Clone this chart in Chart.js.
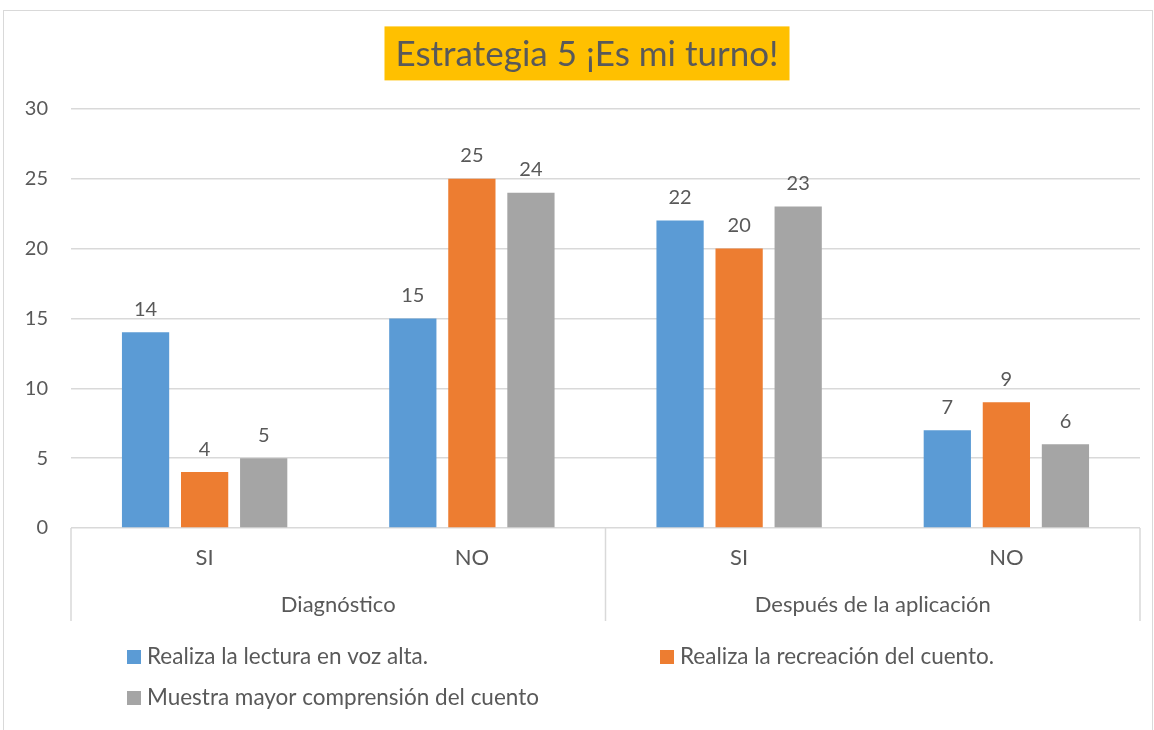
<!DOCTYPE html>
<html lang="es">
<head>
<meta charset="UTF-8" />
<title>Estrategia 5</title>
<script src="https://cdn.jsdelivr.net/npm/chart.js@4.4.0/dist/chart.umd.min.js"></script>
<style>
    body { margin: 0; background: #fff; }
    #board {
        position: absolute;
        left: 3px;
        top: 10px;
        width: 1150px;
        height: 730px;
        border: 1px solid #d9d9d9;
        box-sizing: border-box;
    }
</style>
</head>
<body>
<div id="board">
    <canvas id="chart1"></canvas>
</div>
<script>
    // datos
    const categories = ['SI', 'NO', 'SI', 'NO'];
    const groups = ['Diagnóstico', 'Después de la aplicación'];
    const lectura = [14, 15, 22, 7];
    const recreacion = [4, 25, 20, 9];
    const comprension = [5, 24, 23, 6];
    const seriesNames = [
        'Realiza la lectura en voz alta.',
        'Realiza la recreación del cuento.',
        'Muestra mayor comprensión del cuento'
    ];
    const yTicks = [0, 5, 10, 15, 20, 25, 30];
    const titleText = 'Estrategia 5 ¡Es mi turno!';

    const textColor = '#595959';
    const fontName = 'Lato, "Open Sans", sans-serif';

    // titulo con fondo amarillo (el title de Chart.js solo reserva el espacio)
    const titleBox = {
        id: 'titleBox',
        afterDraw(chart) {
            const ctx = chart.ctx;
            const tb = chart.titleBlock;
            const opts = chart.options.plugins.title;
            ctx.save();
            ctx.font = '35px ' + fontName;
            const w = ctx.measureText(titleText).width;
            const cx = chart.width / 2 + 9;
            const cy = tb.top + opts.padding.top + opts.font.size * 1.2 / 2;
            ctx.fillStyle = '#FFC000';
            ctx.fillRect(cx - w / 2 - 11, cy - 27, w + 22, 54);
            ctx.fillStyle = textColor;
            ctx.textAlign = 'center';
            ctx.textBaseline = 'middle';
            ctx.fillText(titleText, cx, cy + 1);
            ctx.restore();
        }
    };

    // etiquetas de valores, grupos y leyenda
    const extras = {
        id: 'extras',
        afterDraw(chart) {
            const ctx = chart.ctx;
            const area = chart.chartArea;
            ctx.save();
            ctx.fillStyle = textColor;
            ctx.font = '20px ' + fontName;
            ctx.textAlign = 'center';
            ctx.textBaseline = 'bottom';
            chart.data.datasets.forEach((ds, i) => {
                chart.getDatasetMeta(i).data.forEach((bar, j) => {
                    ctx.fillText(ds.data[j], bar.x, bar.y - 13);
                });
            });

            // separadores del eje
            const mid = (area.left + area.right) / 2;
            ctx.strokeStyle = '#d9d9d9';
            ctx.lineWidth = 1.5;
            [area.left, mid, area.right].forEach(x => {
                ctx.beginPath();
                ctx.moveTo(x, area.bottom);
                ctx.lineTo(x, area.bottom + 93);
                ctx.stroke();
            });

            ctx.font = '22px ' + fontName;
            ctx.textBaseline = 'middle';
            ctx.fillText(groups[0], (area.left + mid) / 2, area.bottom + 77);
            ctx.fillText(groups[1], (mid + area.right) / 2, area.bottom + 77);

            // leyenda
            ctx.font = '22.5px ' + fontName;
            const pos = [[123, area.bottom + 129], [656, area.bottom + 129], [123, area.bottom + 170]];
            ctx.textAlign = 'left';
            chart.data.datasets.forEach((ds, i) => {
                const [x, y] = pos[i];
                ctx.fillStyle = ds.backgroundColor;
                ctx.fillRect(x, y - 7, 14, 14);
                ctx.fillStyle = textColor;
                ctx.fillText(ds.label, x + 20, y);
            });
            ctx.restore();
        }
    };

    const ctx = document.getElementById('chart1').getContext('2d');
    new Chart(ctx, {
        type: 'bar',
        data: {
            labels: categories,
            datasets: [
                { label: seriesNames[0], data: lectura, backgroundColor: '#5B9BD5' },
                { label: seriesNames[1], data: recreacion, backgroundColor: '#ED7D31' },
                { label: seriesNames[2], data: comprension, backgroundColor: '#A5A5A5' }
            ]
        },
        plugins: [titleBox, extras],
        options: {
            responsive: true,
            maintainAspectRatio: false,
            animation: false,
            categoryPercentage: 0.663,
            barPercentage: 0.8,
            layout: { padding: { left: 0, right: 12, top: 0, bottom: 118 } },
            plugins: {
                legend: { display: false },
                tooltip: { enabled: false },
                title: {
                    display: true,
                    text: titleText,
                    color: 'rgba(0,0,0,0)',
                    font: { size: 34, family: fontName, weight: 'normal' },
                    padding: { top: 22, bottom: 35 }
                }
            },
            scales: {
                x: {
                    grid: { display: false },
                    border: { display: false },
                    ticks: {
                        color: textColor,
                        font: { size: 22, family: fontName },
                        padding: 9
                    },
                    afterFit(scale) { scale.height = 93; }
                },
                y: {
                    min: 0,
                    max: 30,
                    afterBuildTicks(scale) {
                        scale.ticks = yTicks.map(v => ({ value: v }));
                    },
                    grid: { color: '#d9d9d9', lineWidth: 1.5, drawTicks: false },
                    border: { display: false },
                    ticks: {
                        color: textColor,
                        font: { size: 20, family: fontName },
                        padding: 23
                    },
                    afterFit(scale) { scale.width = 67; }
                }
            }
        }
    });
</script>
</body>
</html>
